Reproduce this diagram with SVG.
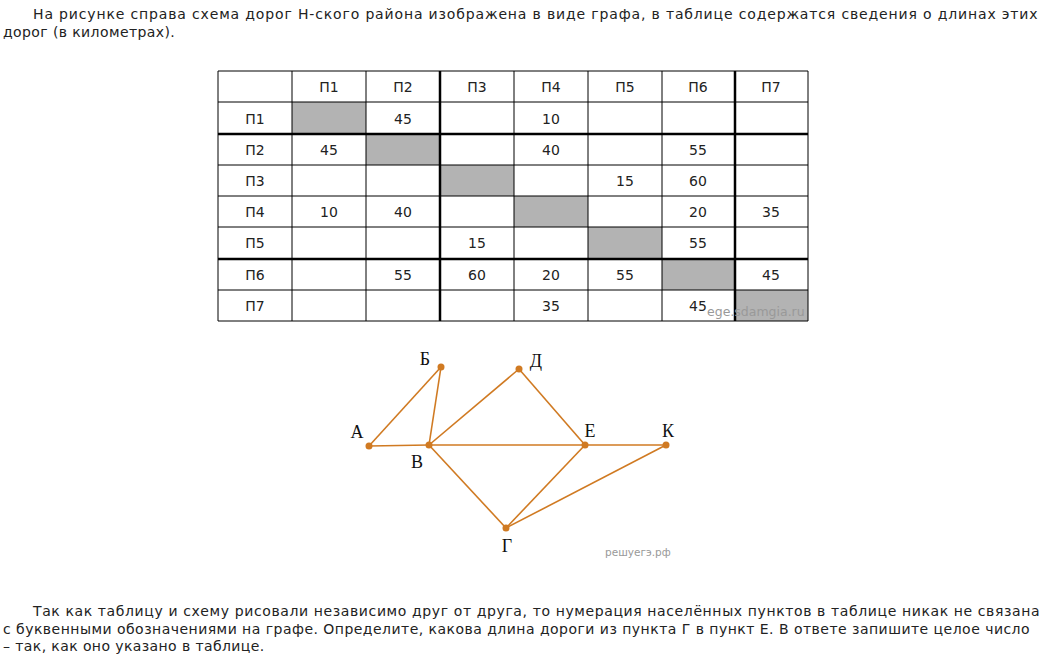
<svg xmlns="http://www.w3.org/2000/svg" width="1056" height="662" viewBox="0 0 1056 662">
<style>
.t{font-family:"DejaVu Sans",Verdana,sans-serif;font-size:14px;letter-spacing:0.4px;fill:#222}
.c{font-family:"DejaVu Sans",Verdana,sans-serif;font-size:14px;fill:#222;text-anchor:middle}
.g{fill:#b3b3b3}
.th{stroke:#000;stroke-width:1}
.tk{stroke:#000;stroke-width:2.5}
.e{stroke:#d07a22;stroke-width:1.6;fill:none}
.n{fill:#d07a22}
.l{font-family:"Liberation Serif","Times New Roman",serif;font-size:18px;fill:#111}
.w{font-family:"DejaVu Sans",Verdana,sans-serif;fill:#999}
</style>
<rect width="1056" height="662" fill="#fff"/>
<g id="intro">
<text class="t" x="33" y="19" textLength="1005" lengthAdjust="spacing">На рисунке справа схема дорог Н-ского района изображена в виде графа, в таблице содержатся сведения о длинах этих</text>
<text class="t" x="3" y="37">дорог (в километрах).</text>
</g>
<g id="table">
<rect class="g" x="292" y="102" width="74" height="32"/>
<rect class="g" x="366" y="134" width="74" height="31"/>
<rect class="g" x="440" y="165" width="74" height="31"/>
<rect class="g" x="514" y="196" width="74" height="31"/>
<rect class="g" x="588" y="227" width="74" height="32"/>
<rect class="g" x="662" y="259" width="73" height="31"/>
<rect class="g" x="735" y="290" width="73" height="31"/>
<g class="th">
<line x1="218" y1="71" x2="808" y2="71"/>
<line x1="218" y1="102" x2="808" y2="102"/>
<line x1="218" y1="165" x2="808" y2="165"/>
<line x1="218" y1="196" x2="808" y2="196"/>
<line x1="218" y1="227" x2="808" y2="227"/>
<line x1="218" y1="290" x2="808" y2="290"/>
<line x1="218" y1="321" x2="808" y2="321"/>
<line x1="218" y1="71" x2="218" y2="321"/>
<line x1="292" y1="71" x2="292" y2="321"/>
<line x1="366" y1="71" x2="366" y2="321"/>
<line x1="514" y1="71" x2="514" y2="321"/>
<line x1="588" y1="71" x2="588" y2="321"/>
<line x1="662" y1="71" x2="662" y2="321"/>
<line x1="808" y1="71" x2="808" y2="321"/>
</g>
<g class="tk">
<line x1="218" y1="134" x2="808" y2="134"/>
<line x1="218" y1="259" x2="808" y2="259"/>
<line x1="440" y1="71" x2="440" y2="321"/>
<line x1="735" y1="71" x2="735" y2="321"/>
</g>
<g>
<text class="c" x="329" y="92">П1</text>
<text class="c" x="403" y="92">П2</text>
<text class="c" x="477" y="92">П3</text>
<text class="c" x="551" y="92">П4</text>
<text class="c" x="625" y="92">П5</text>
<text class="c" x="698" y="92">П6</text>
<text class="c" x="771" y="92">П7</text>
<text class="c" x="255" y="124">П1</text>
<text class="c" x="255" y="155">П2</text>
<text class="c" x="255" y="186">П3</text>
<text class="c" x="255" y="217">П4</text>
<text class="c" x="255" y="248">П5</text>
<text class="c" x="255" y="280">П6</text>
<text class="c" x="255" y="311">П7</text>
<text class="c" x="403" y="124">45</text>
<text class="c" x="551" y="124">10</text>
<text class="c" x="329" y="155">45</text>
<text class="c" x="551" y="155">40</text>
<text class="c" x="698" y="155">55</text>
<text class="c" x="625" y="186">15</text>
<text class="c" x="698" y="186">60</text>
<text class="c" x="329" y="217">10</text>
<text class="c" x="403" y="217">40</text>
<text class="c" x="698" y="217">20</text>
<text class="c" x="771" y="217">35</text>
<text class="c" x="477" y="248">15</text>
<text class="c" x="698" y="248">55</text>
<text class="c" x="403" y="280">55</text>
<text class="c" x="477" y="280">60</text>
<text class="c" x="551" y="280">20</text>
<text class="c" x="625" y="280">55</text>
<text class="c" x="771" y="280">45</text>
<text class="c" x="551" y="311">35</text>
<text class="c" x="698" y="311">45</text>
</g>
<text class="w" x="707" y="316" font-size="12.5">ege.sdamgia.ru</text>
</g>
<g id="connectors">
<line class="e" x1="369" y1="446" x2="441" y2="367"/>
<line class="e" x1="441" y1="367" x2="429" y2="445"/>
<line class="e" x1="369" y1="446" x2="429" y2="445"/>
<line class="e" x1="429" y1="445" x2="519" y2="369"/>
<line class="e" x1="519" y1="369" x2="585" y2="445"/>
<line class="e" x1="429" y1="445" x2="585" y2="445"/>
<line class="e" x1="585" y1="445" x2="666" y2="445"/>
<line class="e" x1="429" y1="445" x2="506" y2="528"/>
<line class="e" x1="506" y1="528" x2="585" y2="445"/>
<line class="e" x1="506" y1="528" x2="666" y2="445"/>
</g>
<g id="node-A"><circle class="n" cx="369" cy="446" r="3.5"/><text class="l" x="357" y="438" text-anchor="middle">А</text></g>
<g id="node-B1"><circle class="n" cx="441" cy="367" r="3.5"/><text class="l" x="425" y="365" text-anchor="middle">Б</text></g>
<g id="node-D"><circle class="n" cx="519" cy="369" r="3.5"/><text class="l" x="536" y="367" text-anchor="middle">Д</text></g>
<g id="node-V"><circle class="n" cx="429" cy="445" r="3.5"/><text class="l" x="417" y="468" text-anchor="middle">В</text></g>
<g id="node-E"><circle class="n" cx="585" cy="445" r="3.5"/><text class="l" x="590" y="437" text-anchor="middle">Е</text></g>
<g id="node-K"><circle class="n" cx="666" cy="445" r="3.5"/><text class="l" x="668" y="437" text-anchor="middle">К</text></g>
<g id="node-G"><circle class="n" cx="506" cy="528" r="3.5"/><text class="l" x="507" y="552" text-anchor="middle">Г</text></g>
<text class="w" x="605" y="556" font-size="10.5">решуегэ.рф</text>
<g id="question">
<text class="t" x="33" y="616" textLength="1007" lengthAdjust="spacing">Так как таблицу и схему рисовали независимо друг от друга, то нумерация населённых пунктов в таблице никак не связана</text>
<text class="t" x="3" y="634" textLength="1027" lengthAdjust="spacing">с буквенными обозначениями на графе. Определите, какова длина дороги из пункта Г в пункт Е. В ответе запишите целое число</text>
<text class="t" x="3" y="651">– так, как оно указано в таблице.</text>
</g>
</svg>
